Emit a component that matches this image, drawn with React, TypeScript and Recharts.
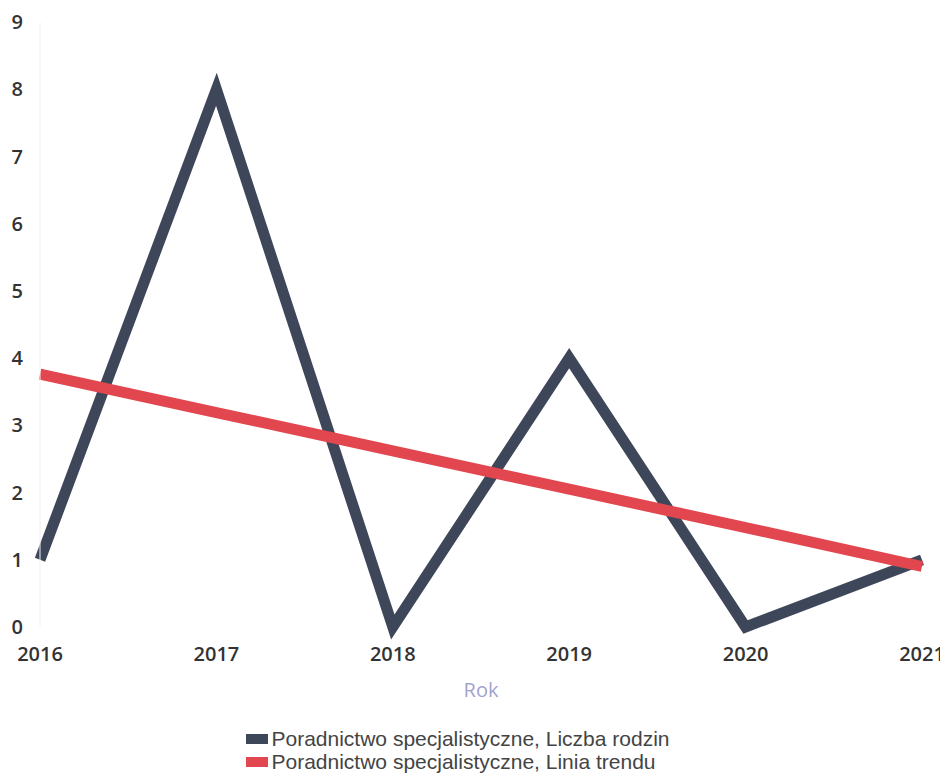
import React from 'react';
import { LineChart, Line, XAxis, YAxis, Legend } from 'recharts';

const years = ['2016', '2017', '2018', '2019', '2020', '2021'];
const families = [1, 8, 0, 4, 0, 1];
const trend = [3.76, 3.19, 2.62, 2.05, 1.48, 0.9];
const yTicks = [0, 1, 2, 3, 4, 5, 6, 7, 8, 9];

const seriesNames = [
  'Poradnictwo specjalistyczne, Liczba rodzin',
  'Poradnictwo specjalistyczne, Linia trendu',
];
const colors = ['#3e475a', '#e2464e'];

const data = years.map((y, i) => ({ year: y, families: families[i], trend: trend[i] }));

const LegendContent = () => (
  <div style={{ display: 'flex', justifyContent: 'center', paddingRight: 14 }}>
    <div style={{ fontFamily: '"Liberation Sans", Arial, sans-serif', fontSize: 21, color: '#444' }}>
      {seriesNames.map((n, i) => (
        <div key={n} style={{ display: 'flex', alignItems: 'center', height: 23 }}>
          <span style={{ display: 'inline-block', width: 22, height: 10, background: colors[i], marginRight: 3 }} />
          <span>{n}</span>
        </div>
      ))}
    </div>
  </div>
);

const tickStyle = { fill: '#333', fontSize: 20, fontWeight: 600, fontFamily: '"Open Sans", sans-serif' };

export default function App() {
  return (
    <div style={{ fontFamily: '"Open Sans", sans-serif', width: 932, overflow: 'visible' }}>
      <style>{'.recharts-wrapper, .recharts-surface { overflow: visible !important; }'}</style>
      <LineChart width={940} height={765} data={data} margin={{ top: 14, right: 26, left: 0, bottom: 0 }}>
        <XAxis
          dataKey="year"
          axisLine={false}
          tickLine={false}
          tickMargin={14}
          height={100}
          interval={0}
          tick={tickStyle}
          label={{ value: 'Rok', position: 'insideTop', offset: 56, fill: '#a3a3cd', fontSize: 20, fontFamily: '"Open Sans", sans-serif' }}
        />
        <YAxis
          domain={[0, 9]}
          ticks={yTicks}
          width={32}
          axisLine={{ stroke: '#f2f2f2' }}
          tickLine={false}
          tickSize={0}
          tickMargin={17}
          interval={0}
          tick={tickStyle}
        />
        <Legend verticalAlign="bottom" content={<LegendContent />} />
        <Line
          dataKey="families"
          stroke={colors[0]}
          strokeWidth={11}
          strokeLinejoin="miter"
          strokeLinecap="butt"
          dot={false}
          activeDot={false}
          isAnimationActive={false}
          type="linear"
        />
        <Line
          dataKey="trend"
          stroke={colors[1]}
          strokeWidth={11}
          strokeLinecap="butt"
          dot={false}
          activeDot={false}
          isAnimationActive={false}
          type="linear"
        />
      </LineChart>
    </div>
  );
}
